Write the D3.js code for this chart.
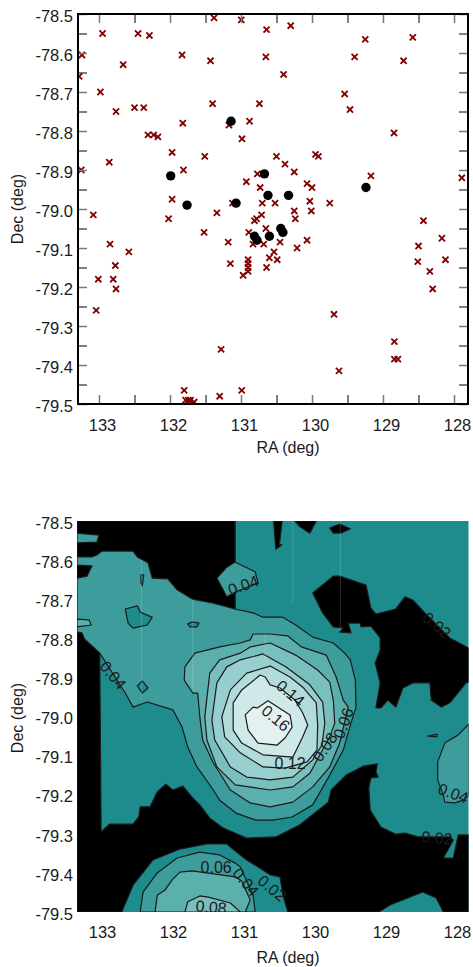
<!DOCTYPE html>
<html>
<head>
<meta charset="utf-8">
<script src="https://cdn.jsdelivr.net/npm/d3@7"></script>
<style>
  body { margin: 0; background: #fff; }
  text { font-family: "Liberation Sans", Arial, sans-serif; fill: #1a1a1a; }
</style>
</head>
<body>
<div id="chart"></div>
<script>
// top panel: ra / dec of the sources
const crossRA = [131.38,130.996,132.95,132.45,132.29,133.24,131.83,131.43,132.66,133.28,132.98,132.76,132.50,132.37,131.40,131.82,131.17,132.31,132.23,132.17,130.986,131.97,131.51,132.855,133.25,131.81,131.97,131.12,131.34,133.08,132.02,
  130.64,130.30,129.25,128.58,130.65,129.40,128.71,130.40,129.54,129.465,130.74,130.88,128.845,130.50,130.38,129.95,129.91,130.25,129.17,127.89,130.77,130.925,130.07,130.00,130.73,130.03,129.75,130.52,130.70,130.25,130.01,130.71,130.78,130.81,130.235,
  128.43,128.17,128.50,130.07,130.21,130.45,130.65,130.89,130.83,130.68,130.535,130.60,130.49,130.90,130.90,130.90,130.90,130.97,130.64,128.12,128.51,128.34,128.30,129.69,128.84,128.84,128.79,129.62,130.99,
  131.52,131.18,131.15,132.845,132.58,132.77,132.80,133.01,132.76,133.04,131.28,131.80,131.30,131.78,131.74,131.71,131.66];
const crossDec = [-78.51,-78.515,-78.55,-78.55,-78.555,-78.605,-78.605,-78.62,-78.63,-78.66,-78.70,-78.75,-78.74,-78.74,-78.73,-78.78,-78.785,-78.81,-78.81,-78.815,-78.82,-78.855,-78.865,-78.88,-78.90,-78.90,-78.975,-78.985,-79.01,-79.015,-79.025,
  -78.54,-78.53,-78.565,-78.56,-78.61,-78.61,-78.62,-78.655,-78.705,-78.745,-78.73,-78.775,-78.805,-78.865,-78.885,-78.86,-78.865,-78.905,-78.915,-78.92,-78.91,-78.93,-78.935,-78.945,-78.945,-78.98,-78.985,-78.985,-78.985,-79.005,-79.005,-79.015,-79.025,-79.03,-79.025,
  -79.03,-79.075,-79.095,-79.08,-79.10,-79.085,-79.05,-79.06,-79.09,-79.09,-79.11,-79.125,-79.13,-79.13,-79.14,-79.15,-79.16,-79.17,-79.15,-79.13,-79.135,-79.16,-79.205,-79.27,-79.34,-79.385,-79.385,-79.415,-79.465,
  -79.06,-79.085,-79.14,-79.09,-79.11,-79.145,-79.18,-79.18,-79.205,-79.26,-79.36,-79.465,-79.48,-79.49,-79.49,-79.49,-79.495];
const dotRA = [131.99,131.76,131.14,131.07,130.67,130.62,130.33,129.24,130.81,130.775,130.60,130.44,130.41];
const dotDec = [-78.915,-78.99,-78.775,-78.985,-78.91,-78.965,-78.965,-78.945,-79.07,-79.08,-79.07,-79.05,-79.06];

const raTicks = [133,132,131,130,129,128];
const decTicks = [-78.5,-78.6,-78.7,-78.8,-78.9,-79.0,-79.1,-79.2,-79.3,-79.4,-79.5];

// bottom panel: contour outlines, [ra, dec]
const level04 = [[133.31,-78.5],[131.085,-78.5],[131.085,-78.725],[130.83,-78.735],[130.69,-78.746],[130.41,-78.746],[130.23,-78.766],[129.99,-78.797],[129.70,-78.812],[129.54,-78.838],[129.46,-78.855],[129.39,-78.907],[129.38,-78.976],[129.46,-79.022],[129.56,-79.086],[129.75,-79.15],[129.99,-79.226],[130.28,-79.257],[130.55,-79.265],[130.79,-79.265],[131.07,-79.247],[131.30,-79.214],[131.39,-79.188],[131.62,-79.129],[131.75,-79.078],[131.83,-79.027],[131.96,-78.983],[132.32,-78.963],[132.52,-78.976],[132.63,-78.94],[132.99,-78.838],[133.31,-78.784]];
const level04Right = [[127.79,-79.019],[127.94,-79.047],[128.13,-79.068],[128.23,-79.116],[128.23,-79.162],[128.15,-79.201],[128.13,-79.219],[127.99,-79.221],[127.87,-79.214],[127.79,-79.201]];
const level04Corner = [[133.31,-78.531],[133.0,-78.536],[133.03,-78.554],[133.31,-78.556]];
const level04Mid = [[131.085,-78.605],[130.97,-78.615],[130.80,-78.63],[130.76,-78.659],[131.085,-78.682],[131.20,-78.694],[131.34,-78.646],[131.20,-78.618]];
const hole1 = [[132.63,-78.725],[132.46,-78.717],[132.42,-78.733],[132.25,-78.746],[132.32,-78.766],[132.52,-78.774],[132.59,-78.761]];
const hole2 = [[132.41,-78.638],[132.37,-78.638],[132.39,-78.666],[132.41,-78.656]];
const hole3 = [[131.75,-78.763],[131.68,-78.758],[131.59,-78.761],[131.62,-78.771],[131.72,-78.771]];
const hole4 = [[132.46,-78.922],[132.39,-78.909],[132.31,-78.927],[132.39,-78.94]];
const hole5 = [[128.37,-79.05],[128.24,-79.045],[128.24,-79.052]];

const blackLow = [[133.31,-78.784],[133.24,-78.786],[133.20,-78.804],[132.99,-78.838],[132.97,-79.295],[132.85,-79.275],[132.52,-79.275],[132.44,-79.257],[132.42,-79.231],[132.28,-79.231],[132.18,-79.193],[132.06,-79.173],[131.96,-79.188],[131.82,-79.178],[131.68,-79.208],[131.58,-79.226],[131.44,-79.26],[131.25,-79.285],[130.92,-79.311],[130.51,-79.308],[130.17,-79.277],[129.77,-79.219],[129.73,-79.188],[129.52,-79.15],[129.28,-79.127],[129.08,-79.121],[129.10,-79.142],[129.07,-79.155],[129.17,-79.157],[129.20,-79.183],[129.18,-79.239],[129.03,-79.283],[128.82,-79.301],[128.69,-79.298],[128.51,-79.308],[128.06,-79.308],[128.01,-79.316],[128.15,-79.362],[128.01,-79.362],[127.94,-79.303],[127.79,-79.303],[127.79,-79.5],[128.15,-79.5],[128.25,-79.464],[128.44,-79.449],[128.90,-79.482],[129.06,-79.5],[130.34,-79.5],[130.41,-79.457],[130.45,-79.41],[130.59,-79.405],[130.76,-79.385],[130.92,-79.367],[131.06,-79.347],[131.20,-79.326],[131.48,-79.326],[131.86,-79.339],[132.24,-79.367],[132.52,-79.431],[132.68,-79.5],[133.31,-79.5]];
const blackTop = [[133.31,-78.5],[131.085,-78.5],[131.085,-78.725],[131.39,-78.71],[131.68,-78.70],[131.90,-78.676],[132.03,-78.648],[132.25,-78.646],[132.31,-78.607],[132.46,-78.592],[132.52,-78.577],[132.96,-78.577],[133.03,-78.587],[133.10,-78.592],[133.31,-78.592]];
const blackNotch = [[133.31,-78.613],[133.10,-78.615],[133.17,-78.641],[133.31,-78.646]];
const blackRight = [[129.70,-78.641],[129.99,-78.684],[129.85,-78.735],[129.70,-78.771],[129.56,-78.774],[129.61,-78.784],[129.45,-78.786],[129.49,-78.761],[129.32,-78.761],[129.31,-78.771],[129.17,-78.769],[129.04,-78.799],[129.04,-78.83],[129.11,-78.863],[129.04,-78.914],[129.10,-78.978],[129.03,-78.978],[128.93,-78.958],[128.82,-78.976],[128.72,-78.927],[128.58,-78.914],[128.34,-78.914],[128.32,-78.958],[128.18,-78.976],[128.06,-78.965],[127.83,-78.914],[127.79,-78.912],[127.79,-78.825],[128.06,-78.799],[128.41,-78.735],[128.58,-78.702],[128.69,-78.694],[128.82,-78.725],[129.10,-78.738],[129.17,-78.723],[129.24,-78.664],[129.61,-78.641]];
const blackSpike = [[130.54,-78.5],[130.42,-78.5],[130.46,-78.561],[130.42,-78.561],[130.51,-78.572]];
const blackWedge = [[130.24,-78.5],[129.94,-78.5],[130.03,-78.531],[130.17,-78.515]];
const blackFleck = [[129.75,-78.518],[129.61,-78.508],[129.46,-78.52],[129.59,-78.531],[129.70,-78.531]];

const level06 = [[131.79,-78.873],[131.65,-78.838],[131.30,-78.822],[131.01,-78.812],[130.87,-78.804],[130.83,-78.789],[130.59,-78.789],[130.34,-78.794],[130.15,-78.822],[129.80,-78.843],[129.66,-78.899],[129.56,-78.958],[129.49,-78.976],[129.61,-79.068],[129.75,-79.129],[129.99,-79.18],[130.27,-79.219],[130.59,-79.231],[130.87,-79.221],[131.15,-79.188],[131.39,-79.119],[131.54,-79.06],[131.58,-79.001],[131.61,-78.94],[131.68,-78.94],[131.80,-78.907]];
const level06Left = [[133.31,-78.751],[133.14,-78.753],[133.11,-78.766],[133.31,-78.771]];
const level08 = [[131.44,-78.889],[131.30,-78.855],[131.01,-78.838],[130.87,-78.822],[130.59,-78.812],[130.23,-78.843],[129.92,-78.881],[129.75,-78.912],[129.70,-78.958],[129.68,-79.017],[129.75,-79.052],[130.03,-79.145],[130.27,-79.18],[130.59,-79.188],[131.08,-79.175],[131.34,-79.129],[131.48,-79.06],[131.51,-79.001]];
const level10 = [[131.01,-78.855],[130.69,-78.84],[130.37,-78.873],[130.03,-78.919],[129.85,-78.963],[129.82,-79.017],[129.86,-79.073],[129.99,-79.111],[130.27,-79.155],[130.59,-79.162],[130.92,-79.155],[131.15,-79.129],[131.37,-79.06],[131.41,-79.009],[131.34,-78.914],[131.20,-78.873]];
const level12 = [[130.59,-78.871],[130.31,-78.899],[130.13,-78.925],[129.94,-78.965],[129.92,-79.022],[129.93,-79.086],[130.07,-79.116],[130.38,-79.132],[130.69,-79.129],[131.01,-79.093],[131.23,-79.052],[131.27,-79.001],[131.15,-78.932],[130.92,-78.889]];
const level14 = [[130.99,-78.932],[130.73,-78.894],[130.66,-78.899],[130.59,-78.919],[130.45,-78.927],[130.24,-78.958],[130.13,-78.991],[130.06,-79.022],[130.13,-79.052],[130.27,-79.104],[130.69,-79.098],[130.99,-79.068],[131.11,-79.035],[131.11,-78.965]];
const level16 = [[130.83,-78.976],[130.77,-78.978],[130.62,-78.96],[130.31,-78.996],[130.28,-79.027],[130.38,-79.055],[130.49,-79.073],[130.76,-79.068],[130.90,-79.035],[130.94,-78.996]];

const lowBlob04 = [[132.42,-79.5],[132.38,-79.449],[132.18,-79.40],[131.90,-79.362],[131.58,-79.347],[131.30,-79.354],[131.08,-79.375],[131.01,-79.385],[130.83,-79.457],[130.80,-79.5]];
const lowBlob06 = [[132.21,-79.5],[132.18,-79.457],[132.07,-79.444],[131.97,-79.418],[131.86,-79.398],[131.69,-79.395],[131.08,-79.41],[130.99,-79.421],[130.87,-79.469],[130.94,-79.5]];
const lowBlob08 = [[131.79,-79.5],[131.75,-79.474],[131.58,-79.459],[131.46,-79.462],[131.15,-79.477],[131.01,-79.5]];

// faint light seams in the map: ra, dec from, dec to
const seamRA = [132.40,131.68,130.27,129.60,130.66];
const seamFrom = [-78.60,-78.70,-78.50,-78.50,-78.79];
const seamTo = [-78.955,-78.93,-78.71,-78.78,-78.86];

// contour labels: text, ra, dec, angle
const labelText = ["0.04","0.04","0.14","0.16","0.12","0.08","0.06","0.04","0.02","0.02","0.06","0.08","0.04","0.02"];
const labelRA = [132.80,130.97,130.30,130.51,130.31,129.82,129.56,128.01,128.24,128.24,131.35,131.42,130.93,130.56];
const labelDec = [-78.894,-78.664,-78.94,-79.004,-79.12,-79.078,-79.017,-79.196,-79.31,-78.766,-79.385,-79.487,-79.423,-79.439];
const labelAngle = [50,-20,40,40,0,-55,-70,20,5,40,0,5,50,40];

const width = 473, height = 967;

const svg = d3.select("#chart").append("svg")
    .attr("width", width)
    .attr("height", height)
    .style("display", "block");

const xTop = d3.scaleLinear().domain([133, 128]).range([99, 454]);
const yTop = d3.scaleLinear().domain([-78.5, -79.5]).range([14, 404]);
const xBot = d3.scaleLinear().domain([133, 128]).range([99, 454]);
const yBot = d3.scaleLinear().domain([-78.5, -79.5]).range([521, 912]);

const defs = svg.append("defs");
defs.append("clipPath").attr("id", "clipTop").append("rect")
    .attr("x", 78).attr("y", 14).attr("width", 390).attr("height", 390);
defs.append("clipPath").attr("id", "clipBot").append("rect")
    .attr("x", 77).attr("y", 521).attr("width", 391.5).attr("height", 391);

// ---- top panel ----
const scatter = svg.append("g").attr("clip-path", "url(#clipTop)");

scatter.selectAll("path.cross")
    .data(crossRA)
    .join("path")
    .attr("class", "cross")
    .attr("d", d3.symbol().type(d3.symbolX).size(26))
    .attr("transform", (d, i) => `translate(${xTop(d)},${yTop(crossDec[i])})`)
    .attr("fill", "none")
    .attr("stroke", "#800000")
    .attr("stroke-width", 1.8);

scatter.selectAll("circle")
    .data(dotRA)
    .join("circle")
    .attr("cx", d => xTop(d))
    .attr("cy", (d, i) => yTop(dotDec[i]))
    .attr("r", 4.7)
    .attr("fill", "#000");

// tick marks inside the frame
const raMinor = d3.range(127.5 + 0.5, 133.5, 0.5);
const decMinor = d3.range(0, 21).map(i => -78.5 - i * 0.05);
const isMajorRA = d => Number.isInteger(d);
const isMajorDec = d => Math.abs(d * 10 - Math.round(d * 10)) < 1e-6;

function tickStyle(g, major) {
    g.select(".domain").remove();
    g.selectAll(".tick line")
        .attr("stroke", d => major(d) ? "#777" : "#000")
        .attr("stroke-width", d => major(d) ? 1.5 : 1);
}

svg.append("g").attr("transform", "translate(0,404)")
    .call(d3.axisBottom(xTop).tickValues(raMinor).tickSize(-9).tickFormat(""))
    .call(tickStyle, isMajorRA);
svg.append("g").attr("transform", "translate(0,14)")
    .call(d3.axisTop(xTop).tickValues(raMinor).tickSize(-9).tickFormat(""))
    .call(tickStyle, isMajorRA);
svg.append("g").attr("transform", "translate(78,0)")
    .call(d3.axisLeft(yTop).tickValues(decMinor).tickSize(-9).tickFormat(""))
    .call(tickStyle, isMajorDec);
svg.append("g").attr("transform", "translate(468,0)")
    .call(d3.axisRight(yTop).tickValues(decMinor).tickSize(-9).tickFormat(""))
    .call(tickStyle, isMajorDec);

svg.append("rect")
    .attr("x", 78).attr("y", 14).attr("width", 390).attr("height", 390)
    .attr("fill", "none").attr("stroke", "#000").attr("stroke-width", 2);

// ---- bottom panel ----
const line = d3.line().x(d => xBot(d[0])).y(d => yBot(d[1]));
const map = svg.append("g").attr("clip-path", "url(#clipBot)");

const teal = "#1e8c8c", c04 = "#3d9c9c", c06 = "#5bafad", c08 = "#79bfbd",
    c10 = "#96cfcd", c12 = "#b1dcdb", c14 = "#cfe8e8", c16 = "#e4f1f1";

map.append("rect")
    .attr("x", 77).attr("y", 521).attr("width", 392).attr("height", 391)
    .attr("fill", teal);

// painted from the outside in, each one over the last
const layers = [
    [level04, c04], [level04Right, c04],
    [hole1, teal], [hole2, teal], [hole3, teal], [hole4, teal], [hole5, teal],
    [blackLow, "#000"], [blackTop, "#000"], [blackNotch, "#000"], [blackRight, "#000"],
    [blackSpike, "#000"], [blackWedge, "#000"], [blackFleck, "#000"],
    [level04Corner, c04], [level04Mid, c04],
    [level06Left, c06], [level06, c06], [level08, c08], [level10, c10],
    [level12, c12], [level14, c14], [level16, c16],
    [lowBlob04, c04], [lowBlob06, c06], [lowBlob08, c08]
];

map.selectAll("path.level")
    .data(layers)
    .join("path")
    .attr("class", "level")
    .attr("d", d => line(d[0]) + "Z")
    .attr("fill", d => d[1])
    .attr("stroke", "#1a1a1a")
    .attr("stroke-width", 1.2)
    .attr("stroke-linejoin", "round");

map.selectAll("line.seam")
    .data(seamRA)
    .join("line")
    .attr("class", "seam")
    .attr("x1", d => xBot(d))
    .attr("x2", d => xBot(d))
    .attr("y1", (d, i) => yBot(seamFrom[i]))
    .attr("y2", (d, i) => yBot(seamTo[i]))
    .attr("stroke", "#fff")
    .attr("stroke-opacity", 0.14)
    .attr("stroke-width", 1.2);

map.selectAll("text.clabel")
    .data(labelText)
    .join("text")
    .attr("class", "clabel")
    .attr("transform", (d, i) => `translate(${xBot(labelRA[i])},${yBot(labelDec[i])}) rotate(${labelAngle[i]})`)
    .attr("text-anchor", "middle")
    .attr("dy", "0.36em")
    .attr("font-size", 16)
    .text(d => d);

// ---- axis labels, both panels ----
function numberAxes(x, y, yAxisX, xAxisY) {
    const gx = svg.append("g").attr("transform", `translate(3,${xAxisY})`)
        .call(d3.axisBottom(x).tickValues(raTicks).tickSize(0).tickPadding(0).tickFormat(d3.format("d")));
    gx.select(".domain").remove();
    gx.selectAll("text").attr("font-size", 16.5).attr("dy", "0.71em");

    // plain hyphen, not the minus sign d3.format gives
    const gy = svg.append("g").attr("transform", `translate(${yAxisX},2)`)
        .call(d3.axisLeft(y).tickValues(decTicks).tickSize(0).tickPadding(0).tickFormat(d => d.toFixed(1)));
    gy.select(".domain").remove();
    gy.selectAll("text").attr("font-size", 16.5);
}
numberAxes(xTop, yTop, 73, 419);
numberAxes(xBot, yBot, 73, 926);

const axisTitle = [["RA (deg)", 288, 447, 0], ["RA (deg)", 288, 957, 0], ["Dec (deg)", 17, 209, -90], ["Dec (deg)", 17, 718, -90]];
svg.selectAll("text.title")
    .data(axisTitle)
    .join("text")
    .attr("class", "title")
    .attr("transform", d => `translate(${d[1]},${d[2]}) rotate(${d[3]})`)
    .attr("text-anchor", "middle")
    .attr("dy", "0.36em")
    .attr("font-size", 16)
    .text(d => d[0]);
</script>
</body>
</html>
